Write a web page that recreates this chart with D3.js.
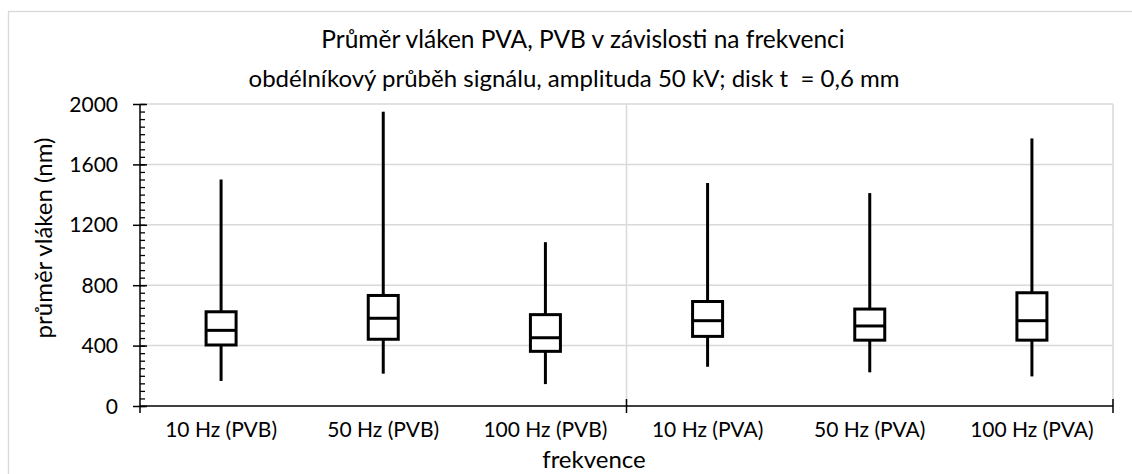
<!DOCTYPE html>
<html>
<head>
<meta charset="utf-8">
<script src="https://cdn.jsdelivr.net/npm/d3@7/dist/d3.min.js"></script>
<style>
  body { margin: 0; background: #fff; }
  svg { display: block; font-family: Lato, "Open Sans", sans-serif; }
</style>
</head>
<body>
<svg id="chart"></svg>
<script>
// data (nm)
var categories = ["10 Hz (PVB)", "50 Hz (PVB)", "100 Hz (PVB)", "10 Hz (PVA)", "50 Hz (PVA)", "100 Hz (PVA)"];
var minVals = [166, 214, 145, 260, 223, 196];
var q1Vals = [404, 442, 362, 461, 436, 436];
var medVals = [501, 581, 452, 565, 530, 565];
var q3Vals = [624, 732, 605, 692, 642, 750];
var maxVals = [1500, 1949, 1085, 1477, 1410, 1772];
var yTicks = [0, 400, 800, 1200, 1600, 2000];

var svgWidth = 1132;
var svgHeight = 474;

var svg = d3.select("#chart")
  .attr("width", svgWidth)
  .attr("height", svgHeight);

// outer chart border
svg.append("rect")
  .attr("x", 8.5).attr("y", 11.5)
  .attr("width", 1200).attr("height", 600)
  .attr("fill", "none")
  .attr("stroke", "#d9d9d9")
  .attr("stroke-width", 1.3);

var x = d3.scaleBand().domain(categories).range([140, 1113]).padding(0);
var y = d3.scaleLinear().domain([0, 2000]).range([406, 104]);

// horizontal gridlines
svg.append("g")
  .selectAll("line")
  .data(yTicks.slice(1))
  .enter()
  .append("line")
  .attr("x1", 140).attr("x2", 1113)
  .attr("y1", function(d) { return y(d); })
  .attr("y2", function(d) { return y(d); })
  .attr("stroke", "#d9d9d9")
  .attr("stroke-width", 1.5);

// vertical gridlines between groups (every 3 categories)
var groupEdges = [x(categories[3]), x.range()[1]];
svg.append("g")
  .selectAll("line")
  .data(groupEdges)
  .enter()
  .append("line")
  .attr("x1", function(d) { return d; })
  .attr("x2", function(d) { return d; })
  .attr("y1", y(2000)).attr("y2", y(0))
  .attr("stroke", "#d9d9d9")
  .attr("stroke-width", 1.5);

// minor y ticks
var minorAxis = d3.axisRight(y)
  .tickValues(d3.range(0, 2001, 50))
  .tickSize(5)
  .tickFormat("");
svg.append("g")
  .attr("transform", "translate(140,0)")
  .call(minorAxis)
  .call(function(g) { g.select(".domain").remove(); })
  .selectAll("line")
  .attr("stroke", "#000")
  .attr("stroke-width", 1.3);

// major y ticks crossing the axis
var majorAxis = d3.axisLeft(y)
  .tickValues(yTicks)
  .tickSize(14)
  .tickFormat("");
svg.append("g")
  .attr("transform", "translate(147,0)")
  .call(majorAxis)
  .call(function(g) { g.select(".domain").remove(); })
  .selectAll("line")
  .attr("stroke", "#000")
  .attr("stroke-width", 1.5);

// y tick labels
svg.append("g")
  .selectAll("text")
  .data(yTicks)
  .enter()
  .append("text")
  .attr("x", 118)
  .attr("y", function(d) { return y(d); })
  .attr("dy", "0.36em")
  .attr("text-anchor", "end")
  .attr("font-size", "21px")
  .attr("fill", "#000")
  .text(function(d) { return d; });

// y axis line
svg.append("line")
  .attr("x1", 140).attr("x2", 140)
  .attr("y1", y(2000)).attr("y2", 413)
  .attr("stroke", "#000").attr("stroke-width", 1.5);

// x axis line
svg.append("line")
  .attr("x1", 140).attr("x2", x.range()[1])
  .attr("y1", y(0)).attr("y2", y(0))
  .attr("stroke", "#000").attr("stroke-width", 1.5);

// x ticks at group edges
svg.append("g")
  .selectAll("line")
  .data(groupEdges)
  .enter()
  .append("line")
  .attr("x1", function(d) { return d; })
  .attr("x2", function(d) { return d; })
  .attr("y1", 399).attr("y2", 413)
  .attr("stroke", "#000")
  .attr("stroke-width", 1.5);

// x labels
svg.append("g")
  .selectAll("text")
  .data(categories)
  .enter()
  .append("text")
  .attr("x", function(d) { return x(d) + x.bandwidth() / 2; })
  .attr("y", 437)
  .attr("text-anchor", "middle")
  .attr("font-size", "21px")
  .attr("fill", "#000")
  .text(function(d) { return d; });

// boxes
var boxW = 30;
var boxes = svg.append("g")
  .selectAll("g")
  .data(categories)
  .enter()
  .append("g")
  .attr("transform", function(d) {
    return "translate(" + (x(d) + x.bandwidth() / 2) + ",0)";
  });

boxes.append("line")
  .attr("x1", 0).attr("x2", 0)
  .attr("y1", function(d, i) { return y(maxVals[i]); })
  .attr("y2", function(d, i) { return y(q3Vals[i]); })
  .attr("stroke", "#000").attr("stroke-width", 3);

boxes.append("line")
  .attr("x1", 0).attr("x2", 0)
  .attr("y1", function(d, i) { return y(q1Vals[i]); })
  .attr("y2", function(d, i) { return y(minVals[i]); })
  .attr("stroke", "#000").attr("stroke-width", 3);

boxes.append("rect")
  .attr("x", -boxW / 2)
  .attr("width", boxW)
  .attr("y", function(d, i) { return y(q3Vals[i]); })
  .attr("height", function(d, i) { return y(q1Vals[i]) - y(q3Vals[i]); })
  .attr("fill", "#fff")
  .attr("stroke", "#000")
  .attr("stroke-width", 3);

boxes.append("line")
  .attr("x1", -boxW / 2).attr("x2", boxW / 2)
  .attr("y1", function(d, i) { return y(medVals[i]); })
  .attr("y2", function(d, i) { return y(medVals[i]); })
  .attr("stroke", "#000").attr("stroke-width", 3);

// titles
svg.append("text")
  .attr("x", 583).attr("y", 48)
  .attr("text-anchor", "middle")
  .attr("font-size", "24.5px")
  .attr("fill", "#000")
  .text("Průměr vláken PVA, PVB v závislosti na frekvenci");

svg.append("text")
  .attr("x", 574).attr("y", 87)
  .attr("text-anchor", "middle")
  .attr("font-size", "24px")
  .attr("fill", "#000")
  .style("white-space", "pre")
  .text("obdélníkový průběh signálu, amplituda 50 kV; disk t  = 0,6 mm");

svg.append("text")
  .attr("transform", "translate(52,238) rotate(-90)")
  .attr("text-anchor", "middle")
  .attr("font-size", "24px")
  .attr("fill", "#000")
  .text("průměr vláken (nm)");

svg.append("text")
  .attr("x", 594).attr("y", 468)
  .attr("text-anchor", "middle")
  .attr("font-size", "24px")
  .attr("fill", "#000")
  .text("frekvence");
</script>
</body>
</html>
